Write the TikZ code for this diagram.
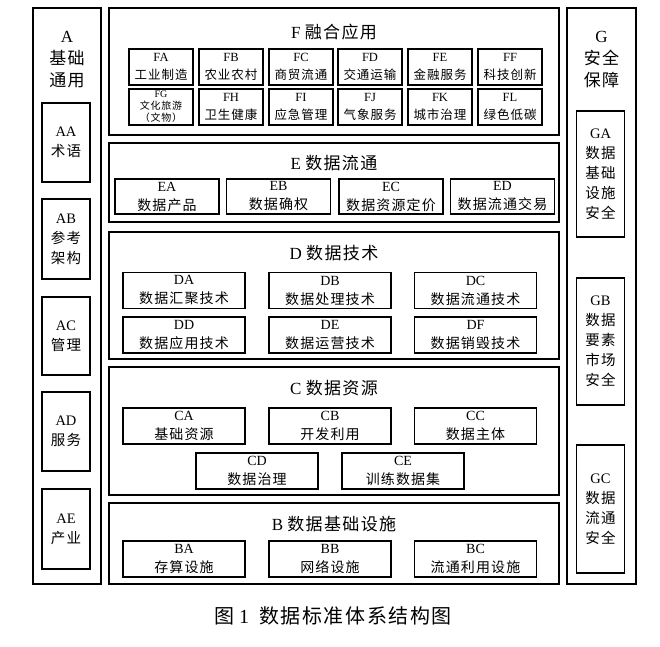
\documentclass[tikz,border=0pt]{standalone}
\usepackage{fontspec}
\setmainfont{Liberation Serif}
\newfontfamily\cjk[LetterSpace=8]{Noto Sans CJK SC}

\begin{document}
\begin{tikzpicture}[
    x=1pt, y=-1pt,
    frame/.style={draw, line width=1.8pt, inner sep=0pt},
    cell/.style={draw, line width=1.1pt, inner sep=0pt, align=center},
    fcell/.style={cell, minimum width=64pt, minimum height=36pt, font=\fontsize{12.5}{18}\selectfont},
    ecell/.style={cell, minimum width=104pt, minimum height=35pt, font=\fontsize{14}{19}\selectfont},
    dcell/.style={cell, minimum width=122pt, minimum height=36pt, font=\fontsize{14}{19}\selectfont},
    side/.style={cell, minimum width=48pt, font=\fontsize{14.5}{20}\selectfont},
    heading/.style={font=\fontsize{17}{22}\selectfont, align=center}
]
    \useasboundingbox (0,0) rectangle (660,646);

    % outer frames
    \node[frame, minimum width=68pt, minimum height=576pt] (A) at (67,296) {};
    \node[frame, minimum width=69pt, minimum height=576pt] (G) at (601.5,296) {};
    \node[frame, minimum width=450pt, minimum height=127pt] (F) at (334,71.5) {};
    \node[frame, minimum width=450pt, minimum height=79pt] (E) at (334,182.5) {};
    \node[frame, minimum width=450pt, minimum height=127pt] (D) at (334,295.5) {};
    \node[frame, minimum width=450pt, minimum height=128pt] (C) at (334,431) {};
    \node[frame, minimum width=450pt, minimum height=81pt] (B) at (334,543.5) {};

    % titles
    \node[heading] (Atitle) at (67,60) {A\\{\cjk 基础}\\{\cjk 通用}};
    \node[heading] (Gtitle) at (601.5,60) {G\\{\cjk 安全}\\{\cjk 保障}};
    \node[heading] (Ftitle) at (334,32) {F {\cjk 融合应用}};
    \node[heading] (Etitle) at (334,163) {E {\cjk 数据流通}};
    \node[heading] (Dtitle) at (334,253) {D {\cjk 数据技术}};
    \node[heading] (Ctitle) at (334,388) {C {\cjk 数据资源}};
    \node[heading] (Btitle) at (334,524) {B {\cjk 数据基础设施}};

    % A column
    \node[side, minimum height=79pt] (AA) at (66,142.5) {AA\\{\cjk 术语}};
    \node[side, minimum height=80pt] (AB) at (66,239) {AB\\{\cjk 参考}\\{\cjk 架构}};
    \node[side, minimum height=78pt] (AC) at (66,336) {AC\\{\cjk 管理}};
    \node[side, minimum height=79pt] (AD) at (66,431.5) {AD\\{\cjk 服务}};
    \node[side, minimum height=80pt] (AE) at (66,529) {AE\\{\cjk 产业}};

    % G column
    \node[side, minimum height=126pt] (GA) at (600.5,174) {GA\\{\cjk 数据}\\{\cjk 基础}\\{\cjk 设施}\\{\cjk 安全}};
    \node[side, minimum height=127pt] (GB) at (600.5,341.5) {GB\\{\cjk 数据}\\{\cjk 要素}\\{\cjk 市场}\\{\cjk 安全}};
    \node[side, minimum height=128pt] (GC) at (600.5,509) {GC\\{\cjk 数据}\\{\cjk 流通}\\{\cjk 安全}};

    % F row
    \node[fcell] (FA) at (161,67) {FA\\{\cjk 工业制造}};
    \node[fcell] (FB) at (231,67) {FB\\{\cjk 农业农村}};
    \node[fcell] (FC) at (301,67) {FC\\{\cjk 商贸流通}};
    \node[fcell] (FD) at (370,67) {FD\\{\cjk 交通运输}};
    \node[fcell] (FE) at (440,67) {FE\\{\cjk 金融服务}};
    \node[fcell] (FF) at (510,67) {FF\\{\cjk 科技创新}};
    \node[fcell, font=\fontsize{10}{12}\selectfont] (FG) at (161,107) {FG\\{\cjk 文化旅游}\\{\cjk （文物）}};
    \node[fcell] (FH) at (231,107) {FH\\{\cjk 卫生健康}};
    \node[fcell] (FI) at (301,107) {FI\\{\cjk 应急管理}};
    \node[fcell] (FJ) at (370,107) {FJ\\{\cjk 气象服务}};
    \node[fcell] (FK) at (440,107) {FK\\{\cjk 城市治理}};
    \node[fcell] (FL) at (510,107) {FL\\{\cjk 绿色低碳}};

    % E row
    \node[ecell] (EA) at (167,196.5) {EA\\{\cjk 数据产品}};
    \node[ecell] (EB) at (278.5,196.5) {EB\\{\cjk 数据确权}};
    \node[ecell] (EC) at (391,196.5) {EC\\{\cjk 数据资源定价}};
    \node[ecell] (ED) at (502.5,196.5) {ED\\{\cjk 数据流通交易}};

    % D row
    \node[dcell] (DA) at (184,290.5) {DA\\{\cjk 数据汇聚技术}};
    \node[dcell] (DB) at (330,290.5) {DB\\{\cjk 数据处理技术}};
    \node[dcell] (DC) at (475.5,290.5) {DC\\{\cjk 数据流通技术}};
    \node[dcell] (DD) at (184,335) {DD\\{\cjk 数据应用技术}};
    \node[dcell] (DE) at (330,335) {DE\\{\cjk 数据运营技术}};
    \node[dcell] (DF) at (475.5,335) {DF\\{\cjk 数据销毁技术}};

    % C row
    \node[dcell] (CA) at (184,426) {CA\\{\cjk 基础资源}};
    \node[dcell] (CB) at (330,426) {CB\\{\cjk 开发利用}};
    \node[dcell] (CC) at (475.5,426) {CC\\{\cjk 数据主体}};
    \node[dcell] (CD) at (257,471) {CD\\{\cjk 数据治理}};
    \node[dcell] (CE) at (403,471) {CE\\{\cjk 训练数据集}};

    % B row
    \node[dcell] (BA) at (184,559) {BA\\{\cjk 存算设施}};
    \node[dcell] (BB) at (330,559) {BB\\{\cjk 网络设施}};
    \node[dcell] (BC) at (475.5,559) {BC\\{\cjk 流通利用设施}};

    \node[font=\fontsize{20}{22}\selectfont] (caption) at (333,616) {{\cjk 图} 1\ \ {\cjk 数据标准体系结构图}};
\end{tikzpicture}
\end{document}
